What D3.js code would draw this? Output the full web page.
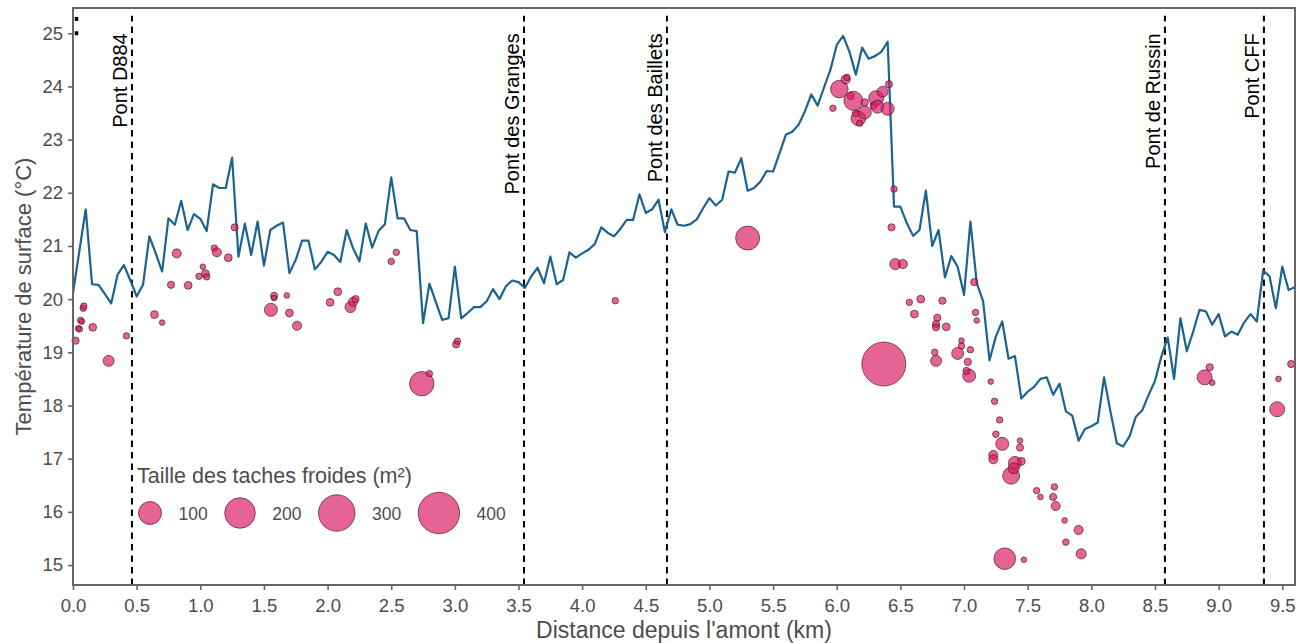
<!DOCTYPE html>
<html>
<head>
<meta charset="utf-8">
<script src="https://cdn.jsdelivr.net/npm/d3@7"></script>
<style>
  body { margin: 0; background: #fff; }
  svg { display: block; font-family: "Liberation Sans", Arial, sans-serif; }
</style>
</head>
<body>
<div id="chart"></div>
<script>
// river surface temperature profile (km from upstream, °C)
var lineKm = [0.00, 0.10, 0.15, 0.20, 0.25, 0.30, 0.35, 0.40, 0.46, 0.50, 0.55, 0.60, 0.65, 0.70, 0.75, 0.80, 0.85, 0.90, 0.95, 1.00,
  1.05, 1.10, 1.15, 1.20, 1.25, 1.30, 1.35, 1.40, 1.45, 1.50, 1.55, 1.60, 1.65, 1.70, 1.75, 1.80, 1.85, 1.90, 1.95, 2.00,
  2.05, 2.10, 2.15, 2.20, 2.25, 2.30, 2.35, 2.40, 2.45, 2.50, 2.55, 2.60, 2.65, 2.70, 2.75, 2.80, 2.85, 2.90, 2.95, 3.00,
  3.05, 3.10, 3.15, 3.20, 3.25, 3.30, 3.35, 3.40, 3.45, 3.50, 3.55, 3.60, 3.65, 3.70, 3.75, 3.80, 3.85, 3.90, 3.95, 4.00,
  4.05, 4.10, 4.15, 4.20, 4.25, 4.30, 4.35, 4.40, 4.45, 4.50, 4.55, 4.60, 4.65, 4.70, 4.75, 4.80, 4.85, 4.90, 4.95, 5.00,
  5.05, 5.10, 5.15, 5.20, 5.25, 5.30, 5.35, 5.40, 5.45, 5.50, 5.55, 5.60, 5.65, 5.70, 5.75, 5.80, 5.85, 5.90, 5.95, 6.00,
  6.05, 6.10, 6.15, 6.20, 6.25, 6.30, 6.35, 6.40, 6.45, 6.50, 6.55, 6.60, 6.65, 6.70, 6.75, 6.80, 6.85, 6.90, 6.95, 7.00,
  7.05, 7.10, 7.15, 7.20, 7.25, 7.30, 7.35, 7.40, 7.45, 7.50, 7.55, 7.60, 7.65, 7.70, 7.75, 7.80, 7.85, 7.90, 7.95, 8.00,
  8.05, 8.10, 8.15, 8.20, 8.25, 8.30, 8.35, 8.40, 8.45, 8.50, 8.55, 8.60, 8.65, 8.70, 8.75, 8.80, 8.85, 8.90, 8.95, 9.00,
  9.05, 9.10, 9.15, 9.20, 9.25, 9.30, 9.35, 9.40, 9.45, 9.50, 9.55, 9.60];
var lineTemp = [20.12, 21.69, 20.28, 20.27, 20.10, 19.92, 20.46, 20.64, 20.30, 20.05, 20.27, 21.18, 20.86, 20.52, 21.52, 21.40, 21.85, 21.30, 21.60, 21.51,
  21.28, 22.16, 22.09, 22.09, 22.66, 20.80, 21.42, 20.83, 21.46, 20.63, 21.30, 21.38, 21.44, 20.49, 20.74, 21.10, 21.10, 20.56, 20.70, 20.89,
  20.83, 20.70, 21.30, 20.96, 20.71, 21.42, 20.97, 21.28, 21.41, 22.29, 21.52, 21.52, 21.30, 21.28, 19.55, 20.29, 19.95, 19.61, 19.64, 20.61,
  19.64, 19.74, 19.85, 19.85, 19.96, 20.19, 20.00, 20.24, 20.35, 20.32, 20.21, 20.43, 20.59, 20.30, 20.80, 20.28, 20.36, 20.88, 20.78, 20.86,
  20.93, 21.04, 21.35, 21.25, 21.18, 21.32, 21.49, 21.49, 21.97, 21.62, 21.69, 21.87, 21.26, 21.69, 21.40, 21.38, 21.41, 21.50, 21.71, 21.90,
  21.76, 21.87, 22.40, 22.38, 22.65, 22.04, 22.09, 22.21, 22.41, 22.40, 22.74, 23.09, 23.15, 23.28, 23.53, 23.85, 23.64, 23.98, 24.31, 24.78,
  24.95, 24.65, 24.22, 24.73, 24.52, 24.57, 24.65, 24.84, 21.74, 21.74, 21.43, 21.19, 21.30, 22.04, 21.00, 21.30, 20.41, 20.81, 20.61, 20.08,
  21.46, 20.30, 19.96, 18.85, 19.30, 19.58, 18.88, 18.93, 18.13, 18.26, 18.35, 18.50, 18.53, 18.20, 18.41, 17.89, 17.81, 17.34, 17.56, 17.61,
  17.68, 18.53, 17.89, 17.29, 17.23, 17.42, 17.79, 17.91, 18.20, 18.46, 18.92, 19.28, 18.50, 19.64, 19.02, 19.39, 19.80, 19.77, 19.52, 19.72,
  19.30, 19.39, 19.33, 19.56, 19.72, 19.58, 20.54, 20.43, 19.83, 20.61, 20.17, 20.23];

// cold patches: position, temperature, area (m²)
var spotKm = [0.02, 0.05, 0.04, 0.06, 0.07, 0.08, 0.085, 0.155, 0.28, 0.42, 0.64, 0.70, 0.77, 0.815, 0.905, 0.99, 1.02, 1.04, 1.05, 1.11,
  1.13, 1.22, 1.27, 1.555, 1.58, 1.58, 1.68, 1.70, 1.76, 2.02, 2.08, 2.18, 2.20, 2.22, 2.50, 2.54, 2.74, 2.80, 3.01, 3.02,
  4.26, 5.30, 5.97, 6.02, 6.07, 6.08, 6.11, 6.13, 6.15, 6.17, 6.18, 6.22, 6.22, 6.29, 6.31, 6.36, 6.32, 6.40, 6.41, 6.45,
  6.43, 6.46, 6.52, 6.57, 6.66, 6.61, 6.79, 6.78, 6.78, 6.83, 6.86, 7.08, 7.09, 7.10, 6.77, 6.78, 6.95, 6.98, 6.98, 7.05,
  7.03, 7.04, 7.02, 6.37, 7.21, 7.24, 7.28, 7.25, 7.30, 7.23, 7.23, 7.37, 7.32, 7.44, 7.44, 7.40, 7.45, 7.39, 7.57, 7.60,
  7.71, 7.70, 7.72, 7.79, 7.90, 7.80, 7.92, 7.47, 8.89, 8.93, 8.95, 9.46, 9.47, 9.57];
var spotTemp = [19.22, 19.44, 19.45, 19.60, 19.58, 19.83, 19.87, 19.47, 18.84, 19.31, 19.71, 19.56, 20.27, 20.86, 20.26, 20.43, 20.61, 20.48, 20.42, 20.96,
  20.88, 20.78, 21.35, 19.80, 20.06, 20.02, 20.07, 19.74, 19.50, 19.94, 20.14, 19.85, 19.95, 20.00, 20.71, 20.88, 18.41, 18.60, 19.15, 19.21,
  19.97, 21.15, 23.59, 23.95, 24.13, 24.17, 23.82, 23.73, 23.49, 23.40, 23.31, 23.51, 23.70, 23.64, 23.78, 23.90, 23.62, 23.58, 24.04, 22.07,
  21.35, 20.66, 20.66, 19.94, 20.00, 19.72, 19.65, 19.53, 19.47, 19.97, 19.48, 20.32, 19.75, 19.60, 19.00, 18.84, 18.98, 19.22, 19.12, 19.05,
  18.82, 18.56, 18.65, 18.78, 18.45, 18.08, 17.73, 17.46, 17.28, 17.07, 16.99, 16.68, 15.12, 17.34, 17.21, 16.92, 16.95, 16.82, 16.40, 16.28,
  16.47, 16.28, 16.11, 15.84, 15.66, 15.43, 15.21, 15.10, 18.53, 18.72, 18.43, 17.93, 18.50, 18.78];
var spotArea = [2, 1, 0.3, 1, 0.3, 1, 1, 3, 12, 1, 3, 0.3, 2, 6, 3, 1, 0.3, 3, 1, 1,
  6, 3, 2, 21, 2, 0.3, 0.3, 3, 6, 3, 3, 12, 6, 2, 1, 1, 116, 1, 2, 1,
  1, 111, 1, 50, 6, 1, 2, 61, 2, 30, 1, 21, 2, 2, 32, 12, 21, 21, 2, 1,
  2, 12, 6, 1, 3, 3, 2, 2, 2, 2, 3, 2, 1, 0.3, 1, 12, 16, 0.3, 1, 1,
  2, 21, 2, 458, 0.3, 1, 1, 1, 21, 6, 6, 45, 85, 0.3, 2, 21, 3, 12, 1, 0.3,
  1, 2, 6, 0.3, 6, 1, 9, 0.3, 32, 2, 0.3, 32, 0.3, 2];

var bridgeNames = ["Pont D884", "Pont des Granges", "Pont des Baillets", "Pont de Russin", "Pont CFF"];
var bridgeKm = [0.463, 3.543, 4.666, 8.578, 9.356];

var legendSizes = [100, 200, 300, 400];
var xTicks = [0, 0.5, 1, 1.5, 2, 2.5, 3, 3.5, 4, 4.5, 5, 5.5, 6, 6.5, 7, 7.5, 8, 8.5, 9, 9.5];
var yTicks = [15, 16, 17, 18, 19, 20, 21, 22, 23, 24, 25];

var W = 1296, H = 643;
var margin = {top: 8, right: 1, bottom: 58, left: 73};
var width = W - margin.left - margin.right;
var height = H - margin.top - margin.bottom;

var svg = d3.select("#chart")
  .append("svg")
    .attr("width", W)
    .attr("height", H)
  .append("g")
    .attr("transform", "translate(" + margin.left + "," + margin.top + ")");

var x = d3.scaleLinear().domain([0, 9.6]).range([0, width]);
var y = d3.scaleLinear().domain([14.625, 25.475]).range([height, 0]);
var size = d3.scaleSqrt().domain([0, 460]).range([2.3, 22.03]);

var grey = "#4d4d4d";
var spotFill = "#d81b60";

// axes
var xAxis = svg.append("g")
    .attr("transform", "translate(0," + height + ")")
    .call(d3.axisBottom(x).tickValues(xTicks).tickFormat(d3.format(".1f")).tickSize(5).tickPadding(9));
var yAxis = svg.append("g")
    .call(d3.axisLeft(y).tickValues(yTicks).tickFormat(d3.format("d")).tickSize(5).tickPadding(5));
[xAxis, yAxis].forEach(function(a) {
  a.select(".domain").remove();
  a.selectAll(".tick line").attr("stroke", "#666").attr("stroke-width", 1.6);
  a.selectAll(".tick text").attr("fill", grey).attr("font-size", "18.5px").attr("font-family", "Liberation Sans, Arial, sans-serif");
});

// bridges
svg.selectAll(".bridge")
  .data(bridgeKm)
  .enter().append("line")
    .attr("x1", function(d) { return x(d); })
    .attr("x2", function(d) { return x(d); })
    .attr("y1", height)
    .attr("y2", y(25.33))
    .attr("stroke", "#000")
    .attr("stroke-width", 2)
    .attr("stroke-dasharray", "6.5,5");

svg.selectAll(".bridge-label")
  .data(bridgeNames)
  .enter().append("text")
    .attr("transform", function(d, i) { return "translate(" + (x(bridgeKm[i]) - 4.5) + "," + y(25) + ") rotate(-90)"; })
    .attr("text-anchor", "end")
    .attr("font-size", "20px")
    .attr("fill", "#000")
    .text(function(d) { return d; });

// temperature line
var line = d3.line()
  .x(function(d, i) { return x(lineKm[i]); })
  .y(function(d) { return y(d); });
svg.append("path")
  .datum(lineTemp)
  .attr("d", line)
  .attr("fill", "none")
  .attr("stroke", "#1b6391")
  .attr("stroke-width", 2.2)
  .attr("stroke-linejoin", "round");

// cold patches
svg.selectAll(".spot")
  .data(spotArea)
  .enter().append("circle")
    .attr("cx", function(d, i) { return x(spotKm[i]); })
    .attr("cy", function(d, i) { return y(spotTemp[i]); })
    .attr("r", function(d) { return size(d); })
    .attr("fill", spotFill)
    .attr("fill-opacity", 0.68)
    .attr("stroke", "#4a1528")
    .attr("stroke-opacity", 0.75)
    .attr("stroke-width", 0.9);

// panel border
svg.append("rect")
  .attr("x", 0).attr("y", 0)
  .attr("width", width).attr("height", height)
  .attr("fill", "none")
  .attr("stroke", "#666")
  .attr("stroke-width", 2);

// small marks at top-left corner
svg.selectAll(".corner")
  .data([25.27, 25])
  .enter().append("rect")
    .attr("x", x(0.014))
    .attr("y", function(d) { return y(d) - 2; })
    .attr("width", 3.5)
    .attr("height", 4)
    .attr("fill", "#000");

// legend
var legend = svg.append("g").attr("transform", "translate(" + (137 - margin.left) + "," + (483 - margin.top) + ")");
legend.append("text")
  .attr("x", 0).attr("y", 0)
  .attr("font-size", "21.5px")
  .attr("fill", grey)
  .text("Taille des taches froides (m²)");
var cursor = 0;
legendSizes.forEach(function(v, i) {
  var r = size(v);
  var cx = (i === 0) ? 13 : cursor + 17 + r;
  legend.append("circle")
    .attr("cx", cx).attr("cy", 30)
    .attr("r", r)
    .attr("fill", spotFill)
    .attr("fill-opacity", 0.68)
    .attr("stroke", "#4a1528")
    .attr("stroke-opacity", 0.75)
    .attr("stroke-width", 0.9);
  var t = legend.append("text")
    .attr("x", cx + r + 17).attr("y", 37)
    .attr("font-size", "17.5px")
    .attr("fill", grey)
    .text(v);
  cursor = cx + r + 17 + t.node().getComputedTextLength();
});

// axis titles
svg.append("text")
  .attr("x", width / 2)
  .attr("y", H - margin.top - 5)
  .attr("text-anchor", "middle")
  .attr("font-size", "23px")
  .attr("fill", grey)
  .text("Distance depuis l'amont (km)");
svg.append("text")
  .attr("transform", "translate(" + (31 - margin.left) + "," + (height / 2) + ") rotate(-90)")
  .attr("text-anchor", "middle")
  .attr("font-size", "22px")
  .attr("fill", grey)
  .text("Température de surface (°C)");
</script>
</body>
</html>
